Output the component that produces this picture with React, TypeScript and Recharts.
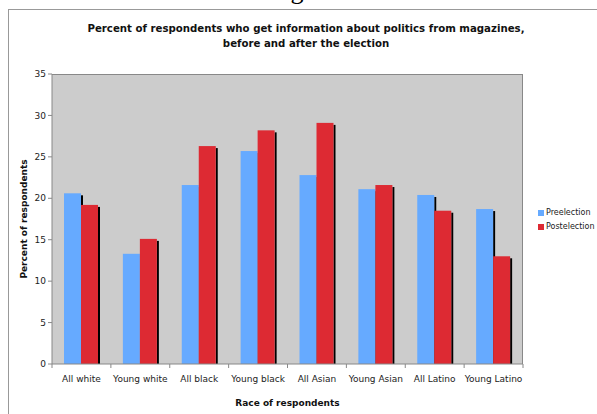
import React from "react";
import { BarChart, Bar, XAxis, YAxis, CartesianGrid } from "recharts";

const categories = [
  "All white",
  "Young white",
  "All black",
  "Young black",
  "All Asian",
  "Young Asian",
  "All Latino",
  "Young Latino",
];
const preelection = [20.6, 13.3, 21.6, 25.7, 22.8, 21.1, 20.4, 18.7];
const postelection = [19.2, 15.1, 26.3, 28.2, 29.1, 21.6, 18.5, 13.0];
const yTicks = [0, 5, 10, 15, 20, 25, 30, 35];
const seriesNames = ["Preelection", "Postelection"];

const data = categories.map((name, i) => ({
  name,
  pre: preelection[i],
  post: postelection[i],
}));

const FONT = "'DejaVu Sans', Verdana, sans-serif";
const BLUE = "#66AAFF";
const RED = "#DD2A33";
const AXIS = "#888888";

const PLOT_LEFT = 52;
const PLOT_RIGHT = 523;
const PLOT_TOP = 74;
const PLOT_BOTTOM = 364;
const BAND = (PLOT_RIGHT - PLOT_LEFT) / categories.length;

// bar with a small black drop shadow on the right, like the old Excel style
const ShadowBar = (props: any) => {
  const { x, y, width, height, fill } = props;
  if (!height || height <= 0) return null;
  return (
    <g>
      <rect x={x + width} y={y + 2} width={2} height={height - 2} fill="#000" />
      <rect x={x} y={y} width={width} height={height} fill={fill} />
    </g>
  );
};

const CategoryTick = (props: any) => {
  const { x, y, payload, index } = props;
  const left = x - BAND / 2;
  return (
    <g>
      <line x1={left} y1={y - 8} x2={left} y2={y - 4} stroke={AXIS} />
      {index === categories.length - 1 && (
        <line x1={left + BAND} y1={y - 8} x2={left + BAND} y2={y - 4} stroke={AXIS} />
      )}
      <text x={x} y={y + 10} textAnchor="middle" fontSize={9} fontFamily={FONT} fill="#222">
        {payload.value}
      </text>
    </g>
  );
};

export default function App() {
  return (
    <div
      style={{
        position: "absolute",
        left: 0,
        top: 0,
        width: 597,
        height: 414,
        background: "#fff",
        overflow: "hidden",
      }}
    >
      <div
        style={{
          position: "absolute",
          left: 0,
          width: 597,
          top: -22,
          textAlign: "center",
          fontFamily: "'Liberation Serif', serif",
          fontSize: 26,
          lineHeight: "26px",
          paddingLeft: 14,
        }}
      >
        Figure 7
      </div>
      <div
        style={{
          position: "absolute",
          left: 8,
          top: 9,
          width: 640,
          height: 460,
          border: "1px solid #999",
        }}
      />
      <div
        style={{
          position: "absolute",
          left: 0,
          top: 21,
          width: 612,
          textAlign: "center",
          fontFamily: FONT,
          fontWeight: "bold",
          fontSize: 10.2,
          lineHeight: "15px",
          color: "#111",
        }}
      >
        Percent of respondents who get information about politics from magazines,
        <br />
        before and after the election
      </div>

      <div style={{ position: "absolute", left: 0, top: 0 }}>
        <BarChart
          width={597}
          height={414}
          data={data}
          margin={{
            top: PLOT_TOP,
            right: 597 - PLOT_RIGHT,
            bottom: 414 - PLOT_BOTTOM - 30,
            left: PLOT_LEFT - 40,
          }}
          barSize={17}
          barGap={0}
        >
          <CartesianGrid fill="#CCCCCC" horizontal={false} vertical={false} stroke="none" />
          <XAxis
            dataKey="name"
            height={30}
            interval={0}
            stroke={AXIS}
            tickLine={false}
            tick={<CategoryTick />}
          />
          <YAxis
            width={40}
            domain={[0, 35]}
            ticks={yTicks}
            stroke={AXIS}
            tickSize={4}
            tick={{ fontSize: 9, fontFamily: FONT, fill: "#222" }}
            interval={0}
          />
          <Bar dataKey="pre" name={seriesNames[0]} fill={BLUE} shape={ShadowBar} isAnimationActive={false} />
          <Bar dataKey="post" name={seriesNames[1]} fill={RED} shape={ShadowBar} isAnimationActive={false} />
        </BarChart>
      </div>

      <div
        style={{
          position: "absolute",
          left: PLOT_LEFT,
          top: PLOT_TOP,
          width: PLOT_RIGHT - PLOT_LEFT,
          height: PLOT_BOTTOM - PLOT_TOP,
          borderTop: `1px solid ${AXIS}`,
          borderRight: `1px solid ${AXIS}`,
          boxSizing: "border-box",
          pointerEvents: "none",
        }}
      />

      <div
        style={{
          position: "absolute",
          left: 538,
          top: 206,
          fontFamily: FONT,
          fontSize: 8,
          color: "#222",
          lineHeight: "14px",
          whiteSpace: "nowrap",
        }}
      >
        {seriesNames.map((label, i) => (
          <div key={label} style={{ display: "flex", alignItems: "center" }}>
            <span
              style={{
                display: "inline-block",
                flexShrink: 0,
                width: 6,
                height: 6,
                background: i === 0 ? BLUE : RED,
                marginRight: 2,
              }}
            />
            {label}
          </div>
        ))}
      </div>

      <div
        style={{
          position: "absolute",
          left: 24 - 100,
          top: (PLOT_TOP + PLOT_BOTTOM) / 2 - 8,
          width: 200,
          textAlign: "center",
          transform: "rotate(-90deg)",
          fontFamily: FONT,
          fontWeight: "bold",
          fontSize: 9,
          lineHeight: "16px",
          color: "#111",
        }}
      >
        Percent of respondents
      </div>
      <div
        style={{
          position: "absolute",
          left: PLOT_LEFT,
          width: PLOT_RIGHT - PLOT_LEFT,
          top: 396,
          textAlign: "center",
          fontFamily: FONT,
          fontWeight: "bold",
          fontSize: 9,
          lineHeight: "14px",
          color: "#111",
        }}
      >
        Race of respondents
      </div>
    </div>
  );
}
